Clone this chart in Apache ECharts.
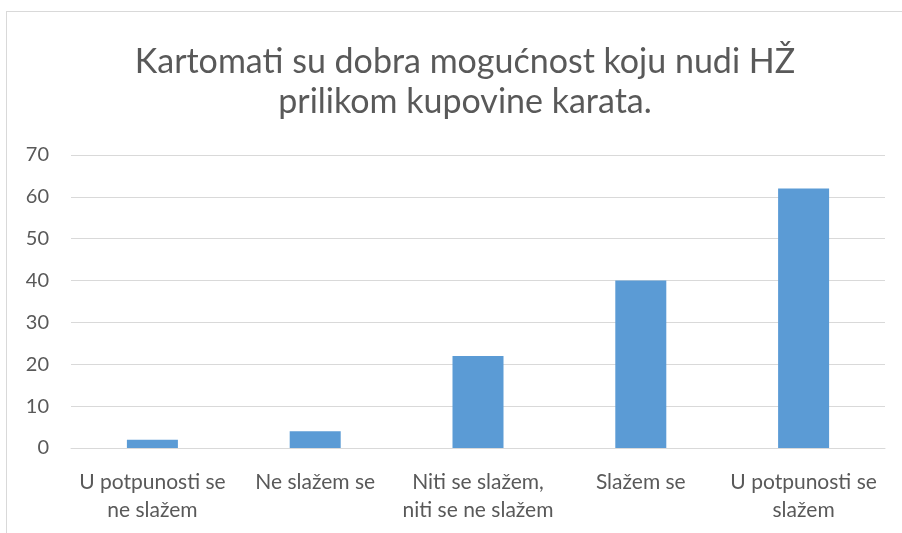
<!DOCTYPE html>
<html>
<head>
<meta charset="utf-8">
<script src="https://cdn.jsdelivr.net/npm/echarts@6/dist/echarts.min.js"></script>
<style>
  html, body { margin: 0; padding: 0; background: #fff; overflow: hidden; }
  #frame { position: absolute; left: 6px; top: 11px; width: 1000px; height: 600px; border: 1px solid #d9d9d9; box-sizing: border-box; }
  #myChart { position: absolute; left: 0; top: 0; width: 902px; height: 533px; }
</style>
</head>
<body>
<div id="frame"></div>
<div id="myChart"></div>
<script>
// podaci s grafikona
const titleText = "Kartomati su dobra mogućnost koju nudi HŽ\nprilikom kupovine karata.";
const categories = [
  "U potpunosti se\nne slažem",
  "Ne slažem se",
  "Niti se slažem,\nniti se ne slažem",
  "Slažem se",
  "U potpunosti se\nslažem"
];
const values = [2, 4, 22, 40, 62];
const yTicks = [0, 10, 20, 30, 40, 50, 60, 70];

let myChart = echarts.init(document.getElementById("myChart"));
const textColor = "#595959";
const fontFamily = "Lato, 'Noto Sans', sans-serif";

myChart.setOption({
  animation: false,
  title: {
    text: titleText,
    left: 460,
    top: 37,
    textAlign: "center",
    textStyle: {
      fontFamily: fontFamily,
      fontSize: 34,
      fontWeight: "normal",
      color: textColor,
      lineHeight: 40
    }
  },
  grid: {
    left: 71,
    right: 17,
    top: 155,
    bottom: 85,
    containLabel: false
  },
  xAxis: {
    type: "category",
    data: categories,
    axisLine: { lineStyle: { color: "#d9d9d9", width: 1 } },
    axisTick: { show: false },
    axisLabel: {
      color: textColor,
      fontFamily: fontFamily,
      fontSize: 21,
      lineHeight: 28,
      margin: 20,
      interval: 0
    }
  },
  yAxis: {
    type: "value",
    min: yTicks[0],
    max: yTicks[yTicks.length - 1],
    interval: 10,
    axisLine: { show: false },
    axisTick: { show: false },
    splitLine: { lineStyle: { color: "#d9d9d9", width: 1 } },
    axisLabel: {
      color: textColor,
      fontFamily: fontFamily,
      fontSize: 20,
      margin: 22
    }
  },
  series: [
    {
      type: "bar",
      data: values,
      barWidth: 51,
      itemStyle: { color: "#5b9bd5" }
    }
  ]
});
</script>
</body>
</html>
